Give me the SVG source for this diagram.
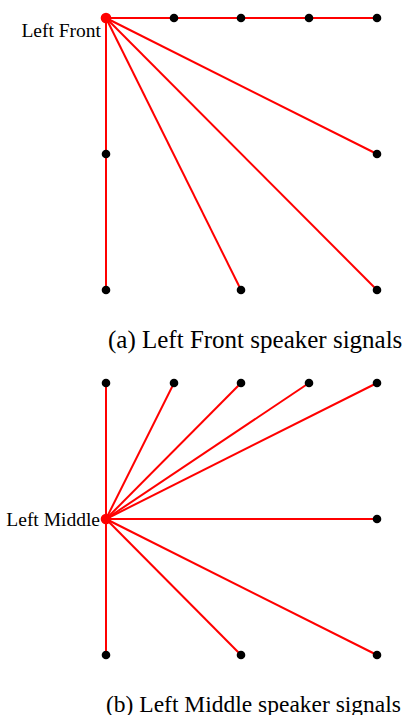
<svg xmlns="http://www.w3.org/2000/svg" width="414" height="715" viewBox="0 0 414 715">
<style>
.e{stroke:#ff0000;stroke-width:2;fill:none}
.d{fill:#000}
.s{fill:#ff0000}
.lbl{font-family:"Liberation Serif","DejaVu Serif",serif;font-size:19.5px;fill:#000}
.cap{font-family:"Liberation Serif","Times New Roman",serif;font-size:25px;fill:#000}
</style>
<rect width="414" height="715" fill="#fff"/>
<g id="connectors-a">
<line class="e" x1="106" y1="18" x2="377" y2="18"/>
<line class="e" x1="106" y1="18" x2="377" y2="154"/>
<line class="e" x1="106" y1="18" x2="377" y2="290"/>
<line class="e" x1="106" y1="18" x2="241" y2="290"/>
<line class="e" x1="106" y1="18" x2="106" y2="290"/>
</g>
<g id="nodes-a">
<circle class="d" cx="174" cy="18" r="4.3"/>
<circle class="d" cx="241" cy="18" r="4.3"/>
<circle class="d" cx="309" cy="18" r="4.3"/>
<circle class="d" cx="377" cy="18" r="4.3"/>
<circle class="d" cx="106" cy="154" r="4.3"/>
<circle class="d" cx="377" cy="154" r="4.3"/>
<circle class="d" cx="106" cy="290" r="4.3"/>
<circle class="d" cx="241" cy="290" r="4.3"/>
<circle class="d" cx="377" cy="290" r="4.3"/>
</g>
<g id="left-front">
<circle class="s" cx="106" cy="18" r="5.3"/>
<text class="lbl" x="101" y="37" text-anchor="end">Left Front</text>
</g>
<text class="cap" x="108" y="348">(a) Left Front speaker signals</text>
<g id="connectors-b">
<line class="e" x1="106" y1="519" x2="106" y2="383"/>
<line class="e" x1="106" y1="519" x2="174" y2="383"/>
<line class="e" x1="106" y1="519" x2="241" y2="383"/>
<line class="e" x1="106" y1="519" x2="309" y2="383"/>
<line class="e" x1="106" y1="519" x2="377" y2="383"/>
<line class="e" x1="106" y1="519" x2="377" y2="519"/>
<line class="e" x1="106" y1="519" x2="377" y2="655"/>
<line class="e" x1="106" y1="519" x2="241" y2="655"/>
<line class="e" x1="106" y1="519" x2="106" y2="655"/>
</g>
<g id="nodes-b">
<circle class="d" cx="106" cy="383" r="4.3"/>
<circle class="d" cx="174" cy="383" r="4.3"/>
<circle class="d" cx="241" cy="383" r="4.3"/>
<circle class="d" cx="309" cy="383" r="4.3"/>
<circle class="d" cx="377" cy="383" r="4.3"/>
<circle class="d" cx="377" cy="519" r="4.3"/>
<circle class="d" cx="106" cy="655" r="4.3"/>
<circle class="d" cx="241" cy="655" r="4.3"/>
<circle class="d" cx="377" cy="655" r="4.3"/>
</g>
<g id="left-middle">
<circle class="s" cx="106" cy="519" r="5.3"/>
<text class="lbl" x="100" y="526" text-anchor="end">Left Middle</text>
</g>
<text class="cap" x="106" y="712" style="font-size:23.5px">(b) Left Middle speaker signals</text>
</svg>
